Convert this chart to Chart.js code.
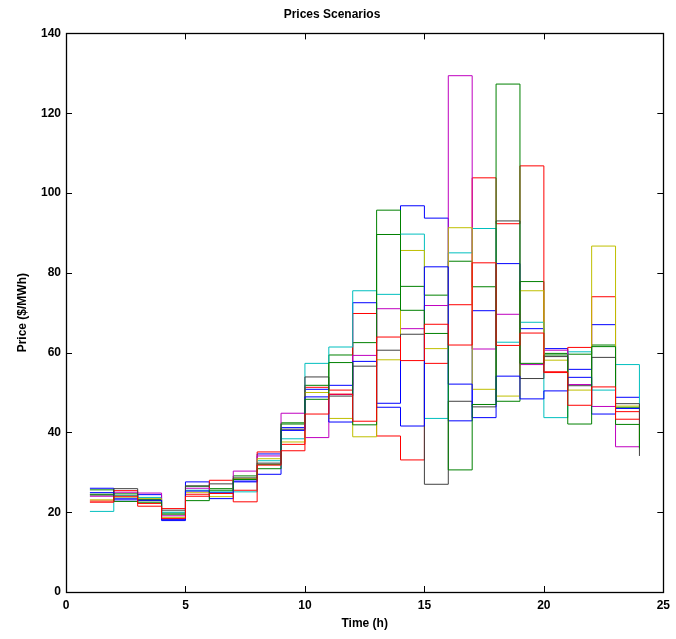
<!DOCTYPE html>
<html>
<head>
<meta charset="utf-8">
<script src="https://cdn.jsdelivr.net/npm/chart.js@4/dist/chart.umd.min.js"></script>
<style>
  html, body { margin: 0; padding: 0; background: #fff; }
  #wrap { width: 676px; height: 639px; }
</style>
</head>
<body>
<div id="wrap"><canvas id="prices"></canvas></div>
<script>
// hours of the day (stairs start at each hour)
const hours = [1, 2, 3, 4, 5, 6, 7, 8, 9, 10, 11, 12, 13, 14, 15, 16, 17, 18, 19, 20, 21, 22, 23, 24];

// price scenarios ($/MWh)
const scenario1 = [26.0, 23.5, 24.4, 17.9, 27.6, 24.9, 27.8, 34.6, 41.2, 50.8, 51.8, 72.5, 47.3, 96.8, 93.7, 42.9, 70.5, 82.3, 66.0, 61.0, 55.8, 67.0, 48.8, 48.8];
const scenario2 = [25.6, 24.6, 23.2, 19.8, 26.5, 25.9, 29.1, 32.0, 42.4, 51.8, 59.4, 62.5, 95.7, 76.6, 74.4, 82.9, 76.5, 47.8, 77.8, 59.8, 59.6, 61.9, 46.3, 46.3];
const scenario3 = [22.8, 25.4, 22.2, 20.9, 24.5, 28.0, 25.5, 35.1, 37.0, 51.3, 50.6, 69.8, 39.1, 33.1, 57.3, 72.0, 103.8, 92.3, 106.8, 55.2, 61.3, 74.0, 45.2, 38.0];
const scenario4 = [20.2, 24.2, 23.7, 20.0, 25.5, 25.1, 25.1, 32.9, 38.4, 57.3, 61.4, 75.5, 74.6, 89.7, 43.5, 85.0, 91.1, 62.6, 67.6, 43.7, 60.2, 50.6, 57.0, 45.5];
const scenario5 = [24.0, 25.0, 24.8, 19.1, 26.0, 24.7, 30.3, 34.1, 44.8, 38.7, 49.5, 59.3, 71.0, 66.0, 71.8, 129.4, 60.9, 69.6, 57.0, 60.6, 52.0, 46.5, 36.4, 36.4];
const scenario6 = [23.1, 23.8, 23.4, 18.7, 25.0, 23.9, 28.4, 33.4, 37.6, 50.0, 43.5, 38.9, 58.2, 85.6, 61.0, 91.3, 50.8, 49.1, 75.5, 58.1, 50.6, 86.7, 46.6, 46.6];
const scenario7 = [24.3, 25.9, 22.9, 20.5, 26.6, 27.1, 28.6, 32.3, 40.8, 53.9, 49.1, 56.6, 60.6, 64.6, 27.0, 47.8, 46.4, 93.0, 53.5, 59.0, 51.7, 58.8, 47.2, 34.1];
const scenario8 = [24.9, 23.1, 23.0, 18.2, 25.3, 23.4, 27.6, 29.5, 40.5, 48.9, 42.6, 57.8, 46.3, 41.6, 81.5, 52.1, 43.7, 54.1, 48.4, 50.4, 53.8, 44.6, 46.0, 46.0];
const scenario9 = [24.5, 22.7, 22.5, 19.5, 22.9, 25.5, 28.2, 30.9, 42.1, 48.3, 57.5, 41.9, 89.6, 70.6, 64.8, 30.6, 47.0, 127.3, 57.3, 59.4, 42.1, 61.5, 42.0, 36.0];
const scenario10 = [22.5, 24.0, 21.5, 18.4, 24.0, 24.7, 22.6, 31.8, 35.4, 44.6, 49.6, 42.8, 63.9, 58.0, 67.1, 61.9, 82.5, 61.8, 64.9, 55.0, 46.8, 51.4, 43.3, 43.3];

const scenarios = [scenario1, scenario2, scenario3, scenario4, scenario5,
                   scenario6, scenario7, scenario8, scenario9, scenario10];

// matlab's default line colour order
const colorOrder = ['#0000ff', '#008000', '#ff0000', '#00bfbf', '#bf00bf', '#bfbf00', '#404040'];

const xTicks = [0, 5, 10, 15, 20, 25];
const yTicks = [0, 20, 40, 60, 80, 100, 120, 140];

const FONT = 'Liberation Sans, Arial, Helvetica, sans-serif';

// box round the plot with inward ticks on all four sides
const matlabAxes = {
  id: 'matlabAxes',
  afterDatasetsDraw(chart) {
    const { ctx, chartArea: a, scales: { x, y } } = chart;
    const len = 6;
    ctx.save();
    ctx.strokeStyle = '#000';
    ctx.lineWidth = 1;
    ctx.beginPath();
    x.ticks.forEach(t => {
      const px = Math.round(x.getPixelForValue(t.value)) + 0.5;
      ctx.moveTo(px, a.bottom); ctx.lineTo(px, a.bottom - len);
      ctx.moveTo(px, a.top); ctx.lineTo(px, a.top + len);
    });
    y.ticks.forEach(t => {
      const py = Math.round(y.getPixelForValue(t.value)) + 0.5;
      ctx.moveTo(a.left, py); ctx.lineTo(a.left + len, py);
      ctx.moveTo(a.right, py); ctx.lineTo(a.right - len, py);
    });
    ctx.stroke();
    ctx.lineWidth = 1.3;
    ctx.strokeRect(Math.round(a.left) + 0.5, Math.round(a.top) + 0.5,
                   Math.round(a.right - a.left), Math.round(a.bottom - a.top));
    ctx.restore();
  }
};

const datasets = scenarios.map((vals, i) => ({
  label: 'Scenario ' + (i + 1),
  data: hours.map((h, k) => ({ x: h, y: vals[k] })),
  borderColor: colorOrder[i % colorOrder.length],
  borderWidth: 1,
  pointRadius: 0,
  fill: false,
  stepped: 'before',
  tension: 0,
  order: scenarios.length - i // later scenarios drawn on top, like matlab
}));

new Chart(document.getElementById('prices'), {
  type: 'line',
  data: { datasets },
  plugins: [matlabAxes],
  options: {
    responsive: true,
    maintainAspectRatio: false,
    animation: false,
    layout: { padding: { left: 0, right: 12, top: 0, bottom: 0 } },
    plugins: {
      legend: { display: false },
      tooltip: { enabled: false },
      title: {
        display: true,
        text: 'Prices Scenarios',
        color: '#000',
        font: { family: FONT, size: 12, weight: 'bold' },
        padding: { top: 7, bottom: 12 }
      }
    },
    scales: {
      x: {
        type: 'linear',
        min: 0,
        max: 25,
        afterBuildTicks: s => { s.ticks = xTicks.map(v => ({ value: v })); },
        afterFit: s => { s.height = 47; },
        grid: { display: false, drawTicks: false },
        border: { display: false },
        ticks: {
          color: '#000',
          padding: 6,
          maxRotation: 0,
          font: { family: FONT, size: 12, weight: 'bold' }
        },
        title: {
          display: true,
          text: 'Time (h)',
          color: '#000',
          font: { family: FONT, size: 12, weight: 'bold' },
          padding: { top: 0, bottom: 8 }
        }
      },
      y: {
        type: 'linear',
        min: 0,
        max: 140,
        afterBuildTicks: s => { s.ticks = yTicks.map(v => ({ value: v })); },
        afterFit: s => { s.width = 66; },
        grid: { display: false, drawTicks: false },
        border: { display: false },
        ticks: {
          color: '#000',
          padding: 5,
          font: { family: FONT, size: 12, weight: 'bold' }
        },
        title: {
          display: true,
          text: 'Price ($/MWh)',
          color: '#000',
          font: { family: FONT, size: 12, weight: 'bold' },
          padding: { top: 15, bottom: 0 }
        }
      }
    }
  }
});
</script>
</body>
</html>
